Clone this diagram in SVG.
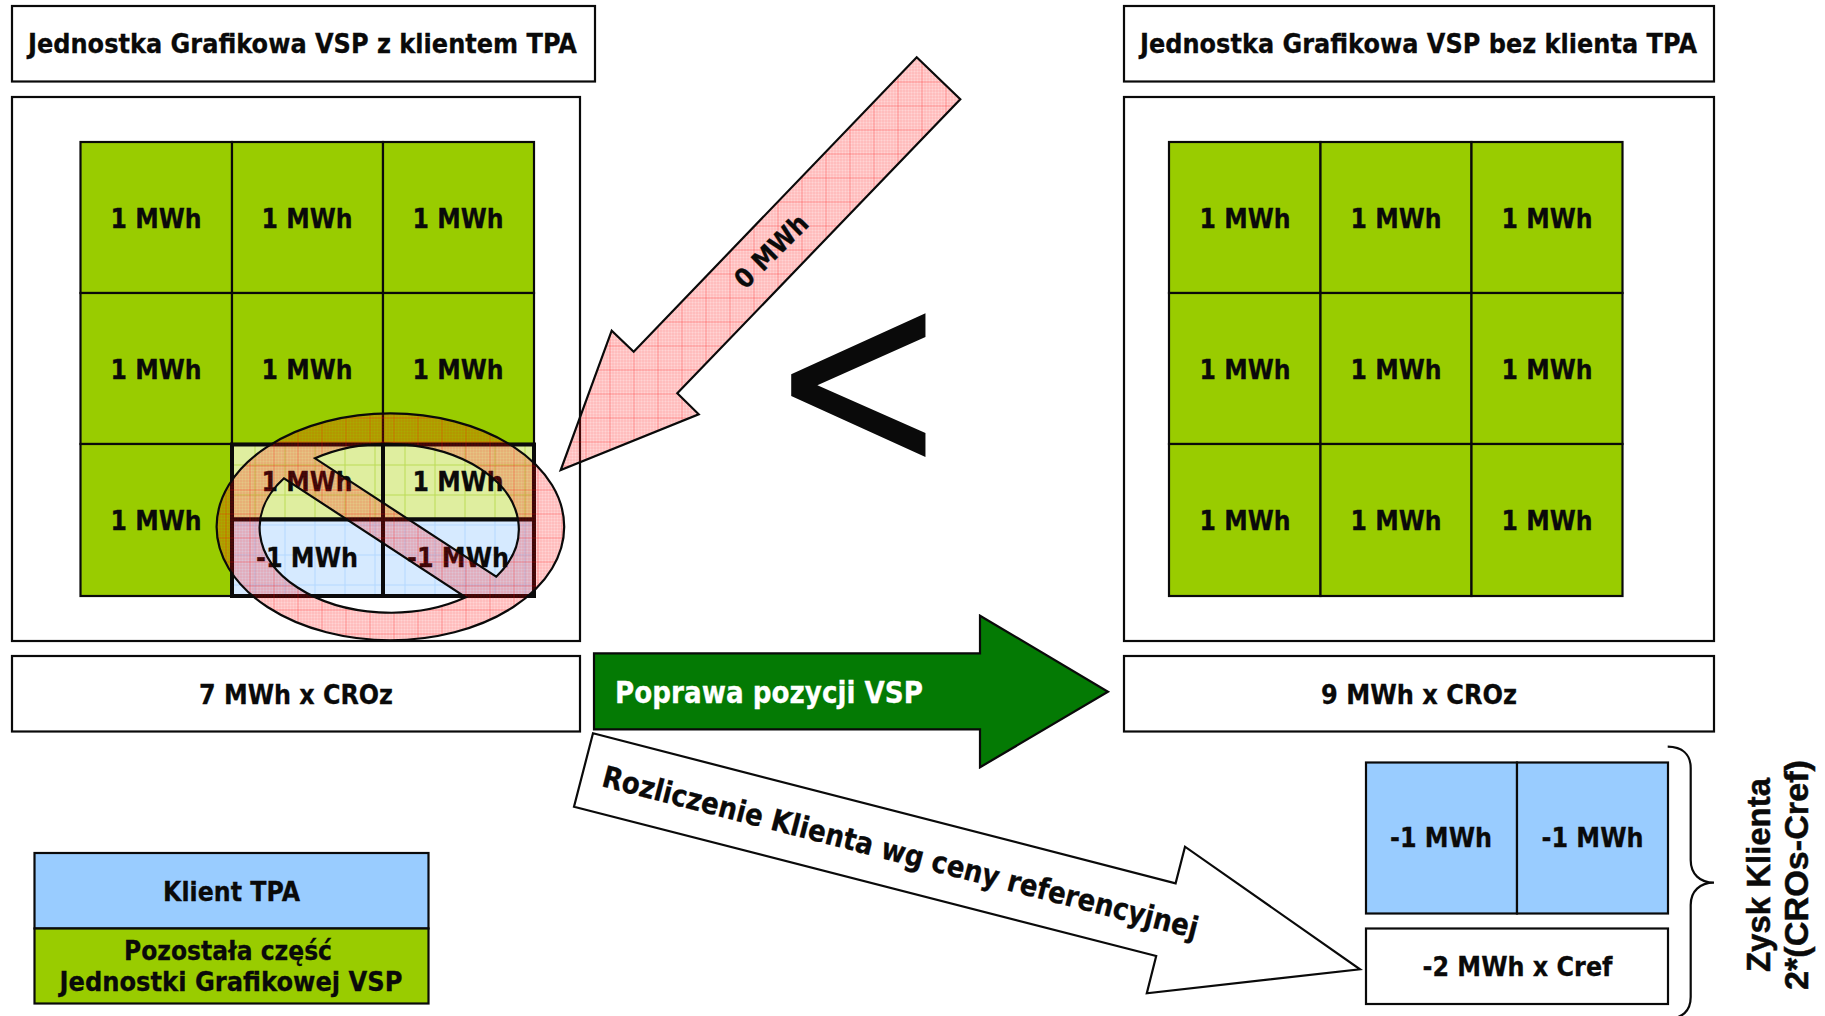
<svg xmlns="http://www.w3.org/2000/svg" width="1825" height="1016" viewBox="0 0 1825 1016">
<style>
.b{fill:#fff;stroke:#0a0a0a;stroke-width:2.2}
.g{fill:#99cc00;stroke:#0a0a0a;stroke-width:2.2}
.c{fill:#99ccff;stroke:#0a0a0a;stroke-width:2.2}
.lg{fill:url(#lightGreen);stroke:#0a0a0a;stroke-width:4}
.lb{fill:url(#lightBlue);stroke:#0a0a0a;stroke-width:4}
.h{fill:url(#hatch);stroke:#0a0a0a;stroke-width:2.2;stroke-linejoin:miter}
.t{font-family:"DejaVu Sans",Verdana,sans-serif;font-weight:700;font-size:26.5px;fill:#0a0a0a;stroke:#0a0a0a;stroke-width:.3;text-anchor:middle}
.w{font-size:30px}
.s{font-family:"Liberation Sans",Arial,sans-serif;font-weight:700;font-size:34px;fill:#0a0a0a;stroke:#0a0a0a;stroke-width:.5;text-anchor:middle}
</style>
<defs>
<pattern id="hatch" width="24" height="24" patternUnits="userSpaceOnUse">
<rect width="24" height="24" fill="#ff0000" fill-opacity="0.17"/>
<path d="M1 0V24M4 0V24M7 0V24M10 0V24M13 0V24M16 0V24M19 0V24M22 0V24M0 1H24M0 4H24M0 7H24M0 10H24M0 13H24M0 16H24M0 19H24M0 22H24" stroke="#ff0000" stroke-opacity="0.11" stroke-width="1"/>
<path d="M10 0V24M0 10H24" stroke="#ff0000" stroke-opacity="0.22" stroke-width="1"/>
</pattern>
<pattern id="lightGreen" width="30" height="30" patternUnits="userSpaceOnUse">
<rect width="30" height="30" fill="#dfee9f"/>
<path d="M15 0V30M0 15H30" stroke="#bcdc55" stroke-width="1"/>
</pattern>
<pattern id="lightBlue" width="30" height="30" patternUnits="userSpaceOnUse">
<rect width="30" height="30" fill="#d6eaff"/>
<path d="M15 0V30M0 15H30" stroke="#b4d9ff" stroke-width="1"/>
</pattern>
</defs>
<rect width="1825" height="1016" fill="#fff"/>

<g id="title-left"><rect class="b" x="12" y="6" width="583" height="75.5"/><text class="t" x="302.5" y="53" textLength="549" lengthAdjust="spacingAndGlyphs">Jednostka Grafikowa VSP z klientem TPA</text></g>
<g id="title-right"><rect class="b" x="1124" y="6" width="590" height="75.5"/><text class="t" x="1418.5" y="53" textLength="557" lengthAdjust="spacingAndGlyphs">Jednostka Grafikowa VSP bez klienta TPA</text></g>
<g id="panel-left"><rect class="b" x="12" y="97" width="568" height="544"/></g>
<g id="panel-right"><rect class="b" x="1124" y="97" width="590" height="544"/></g>

<g id="grid-left">
<rect class="g" x="80.5" y="142" width="151.5" height="151"/><rect class="g" x="232" y="142" width="151" height="151"/><rect class="g" x="383" y="142" width="151" height="151"/>
<rect class="g" x="80.5" y="293" width="151.5" height="151"/><rect class="g" x="232" y="293" width="151" height="151"/><rect class="g" x="383" y="293" width="151" height="151"/>
<rect class="g" x="80.5" y="444" width="151.5" height="152"/>
<rect class="lg" x="232" y="444.5" width="151" height="75"/><rect class="lg" x="383" y="444.5" width="151" height="75"/>
<rect class="lb" x="232" y="519.5" width="151" height="76.5"/><rect class="lb" x="383" y="519.5" width="151" height="76.5"/>
<text class="t" x="156" y="227.5" textLength="91" lengthAdjust="spacingAndGlyphs">1 MWh</text><text class="t" x="307" y="227.5" textLength="91" lengthAdjust="spacingAndGlyphs">1 MWh</text><text class="t" x="458" y="227.5" textLength="91" lengthAdjust="spacingAndGlyphs">1 MWh</text>
<text class="t" x="156" y="378.5" textLength="91" lengthAdjust="spacingAndGlyphs">1 MWh</text><text class="t" x="307" y="378.5" textLength="91" lengthAdjust="spacingAndGlyphs">1 MWh</text><text class="t" x="458" y="378.5" textLength="91" lengthAdjust="spacingAndGlyphs">1 MWh</text>
<text class="t" x="156" y="529.5" textLength="91" lengthAdjust="spacingAndGlyphs">1 MWh</text>
<text class="t" x="307" y="491" textLength="91" lengthAdjust="spacingAndGlyphs">1 MWh</text><text class="t" x="458" y="491" textLength="91" lengthAdjust="spacingAndGlyphs">1 MWh</text>
<text class="t" x="307" y="567" textLength="102" lengthAdjust="spacingAndGlyphs">-1 MWh</text><text class="t" x="458" y="567" textLength="102" lengthAdjust="spacingAndGlyphs">-1 MWh</text>
</g>

<g id="grid-right">
<rect class="g" x="1169" y="142" width="151.5" height="151"/><rect class="g" x="1320.5" y="142" width="151" height="151"/><rect class="g" x="1471.5" y="142" width="151" height="151"/>
<rect class="g" x="1169" y="293" width="151.5" height="151"/><rect class="g" x="1320.5" y="293" width="151" height="151"/><rect class="g" x="1471.5" y="293" width="151" height="151"/>
<rect class="g" x="1169" y="444" width="151.5" height="152"/><rect class="g" x="1320.5" y="444" width="151" height="152"/><rect class="g" x="1471.5" y="444" width="151" height="152"/>
<text class="t" x="1245" y="227.5" textLength="91" lengthAdjust="spacingAndGlyphs">1 MWh</text><text class="t" x="1396" y="227.5" textLength="91" lengthAdjust="spacingAndGlyphs">1 MWh</text><text class="t" x="1547" y="227.5" textLength="91" lengthAdjust="spacingAndGlyphs">1 MWh</text>
<text class="t" x="1245" y="378.5" textLength="91" lengthAdjust="spacingAndGlyphs">1 MWh</text><text class="t" x="1396" y="378.5" textLength="91" lengthAdjust="spacingAndGlyphs">1 MWh</text><text class="t" x="1547" y="378.5" textLength="91" lengthAdjust="spacingAndGlyphs">1 MWh</text>
<text class="t" x="1245" y="529.5" textLength="91" lengthAdjust="spacingAndGlyphs">1 MWh</text><text class="t" x="1396" y="529.5" textLength="91" lengthAdjust="spacingAndGlyphs">1 MWh</text><text class="t" x="1547" y="529.5" textLength="91" lengthAdjust="spacingAndGlyphs">1 MWh</text>
</g>

<g id="no-symbol">
<path class="h" fill-rule="evenodd" d="M216.6 526.8A173.8 113.4 0 1 1 564.2 526.8A173.8 113.4 0 1 1 216.6 526.8ZM315 458.3A131 85 0 0 1 496.2 576.7ZM465.8 597.3A131 85 0 0 1 284 478.3Z"/>
</g>

<g id="box-left-value"><rect class="b" x="12" y="656" width="568" height="75.5"/><text class="t" x="296" y="703.5" textLength="194" lengthAdjust="spacingAndGlyphs">7 MWh x CROz</text></g>
<g id="box-right-value"><rect class="b" x="1124" y="656" width="590" height="75.5"/><text class="t" x="1419" y="703.5" textLength="196" lengthAdjust="spacingAndGlyphs">9 MWh x CROz</text></g>

<g id="client-cells">
<rect class="c" x="1366" y="762.5" width="151" height="151"/><rect class="c" x="1517" y="762.5" width="151" height="151"/>
<text class="t" x="1441" y="847" textLength="102" lengthAdjust="spacingAndGlyphs">-1 MWh</text><text class="t" x="1592.5" y="847" textLength="102" lengthAdjust="spacingAndGlyphs">-1 MWh</text>
</g>
<g id="client-value"><rect class="b" x="1366" y="928.5" width="302" height="75.5"/><text class="t" x="1517.5" y="975.5" textLength="190" lengthAdjust="spacingAndGlyphs">-2 MWh x Cref</text></g>

<g id="legend">
<rect class="c" x="34.5" y="853" width="394" height="75.5"/>
<rect class="g" x="34.5" y="928.5" width="394" height="75"/>
<text class="t" x="231.5" y="900.5" textLength="137" lengthAdjust="spacingAndGlyphs">Klient TPA</text>
<text class="t" x="228" y="959.5" textLength="208" lengthAdjust="spacingAndGlyphs">Pozostała część</text>
<text class="t" x="231" y="991" textLength="343" lengthAdjust="spacingAndGlyphs">Jednostki Grafikowej VSP</text>
</g>

<g id="less-than"><text transform="translate(768.5,469.3) scale(.966,1.21)" font-family="DejaVu Sans, sans-serif" font-size="222" fill="#0a0a0a">&lt;</text></g>

<g id="connectors">
<polygon class="h" points="916.7,57.3 960.3,99.3 677.3,393.3 698.7,414.3 560.7,470 611.7,330.7 633.7,351.7"/>
<text class="t" transform="translate(772,252) rotate(-45)" y="8" textLength="92" lengthAdjust="spacingAndGlyphs">0 MWh</text>
<polygon fill="#047a04" stroke="#0a0a0a" stroke-width="2.2" points="594,653.3 980,653.3 980,615.7 1108,691.7 980,767.3 980,729.3 594,729.3"/>
<text class="t w" x="615" y="702.7" textLength="308" lengthAdjust="spacingAndGlyphs" style="fill:#fff;stroke:#fff;text-anchor:start">Poprawa pozycji VSP</text>
<polygon class="b" points="593,733.3 1175.6,883.3 1185,846.7 1360,969.3 1146.8,993.3 1156.2,956 574,806.7"/>
<text class="t w" transform="translate(600.5,786) rotate(14.4)" textLength="614" lengthAdjust="spacingAndGlyphs" style="text-anchor:start">Rozliczenie Klienta wg ceny referencyjnej</text>
<path id="brace" d="M1667.7 746.7C1682 747 1690.7 754 1690.7 768V860C1690.7 874 1700 882.7 1714 882.7C1700 882.7 1690.7 891 1690.7 905V997C1690.7 1011 1682 1018.7 1667.7 1018.7" fill="none" stroke="#0a0a0a" stroke-width="2.2"/>
</g>

<g id="brace-label">
<text class="s" transform="translate(1770,875) rotate(-90)" textLength="194" lengthAdjust="spacingAndGlyphs">Zysk Klienta</text>
<text class="s" transform="translate(1808,875) rotate(-90)" textLength="230" lengthAdjust="spacingAndGlyphs">2*(CROs-Cref)</text>
</g>
</svg>
